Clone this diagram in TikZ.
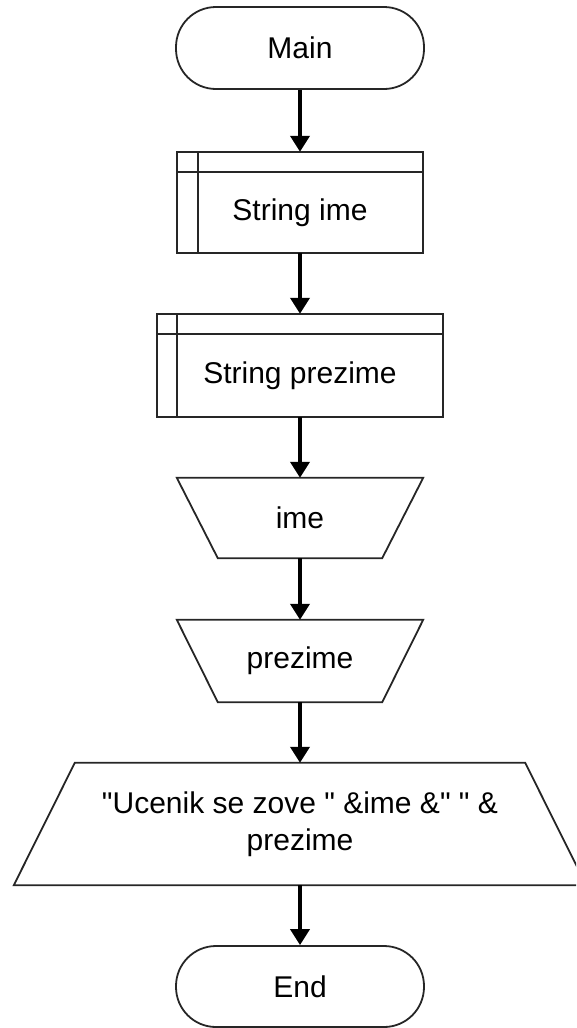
\documentclass[tikz,border=0pt]{standalone}
\usepackage{fontspec}
\setmainfont{Liberation Sans}
\usetikzlibrary{arrows.meta}
\begin{document}
\begin{tikzpicture}[x=1pt,y=-1pt,
  shapeline/.style={draw=black!85, line width=1.8pt},
  term/.style={shapeline, rounded corners=40pt, minimum width=248pt, minimum height=82pt, inner sep=0pt},
  body/.style={inner sep=0pt},
  flow/.style={line width=3.8pt, draw=black, -{Triangle[length=16pt,width=19pt]}},
  every node/.style={font=\fontsize{30}{37}\selectfont, text=black}]
\clip (0,0) rectangle (576,1028);
% Start
\node[term] (main) at (300,48) {Main};
% String ime declaration
\node[body, minimum width=246pt, minimum height=81pt] (s1) at (300,212.5) {String ime};
\coordinate (s1top) at ([yshift=20pt]s1.north);
\draw[shapeline] ([yshift=20pt]s1.north west) rectangle (s1.south east);
\draw[shapeline] (s1.north west) -- (s1.north east);
\draw[shapeline] ([xshift=21pt]s1.south west) -- ++(0,-101);
% String prezime declaration
\node[body, minimum width=286pt, minimum height=83pt] (s2) at (300,375.5) {String prezime};
\coordinate (s2top) at ([yshift=20pt]s2.north);
\draw[shapeline] ([yshift=20pt]s2.north west) rectangle (s2.south east);
\draw[shapeline] (s2.north west) -- (s2.north east);
\draw[shapeline] ([xshift=20pt]s2.south west) -- ++(0,-103);
% input ime
\node[body, minimum width=246pt, minimum height=80pt] (ime) at (300,518) {ime};
\draw[shapeline] (ime.north west) -- (ime.north east) -- ([xshift=-41pt]ime.south east) -- ([xshift=41pt]ime.south west) -- cycle;
% input prezime
\node[body, minimum width=246pt, minimum height=82pt] (prz) at (300,661) {prezime};
\draw[shapeline] (prz.north west) -- (prz.north east) -- ([xshift=-41pt]prz.south east) -- ([xshift=41pt]prz.south west) -- cycle;
% output
\node[body, minimum width=572pt, minimum height=122pt, align=center] (out) at (300,824) {\textquotedbl Ucenik se zove \textquotedbl{} \&ime \&\textquotedbl{} \textquotedbl{} \&\\prezime};
\draw[shapeline] ([xshift=61pt]out.north west) -- ([xshift=-61pt]out.north east) -- (out.south east) -- (out.south west) -- cycle;
% End
\node[term, minimum height=81pt] (end) at (300,986.5) {End};
% connectors
\draw[flow] (main.south) -- (s1top);
\draw[flow] (s1.south) -- (s2top);
\draw[flow] (s2.south) -- (ime.north);
\draw[flow] (ime.south) -- (prz.north);
\draw[flow] (prz.south) -- (out.north);
\draw[flow] (out.south) -- (end.north);
\end{tikzpicture}
\end{document}
